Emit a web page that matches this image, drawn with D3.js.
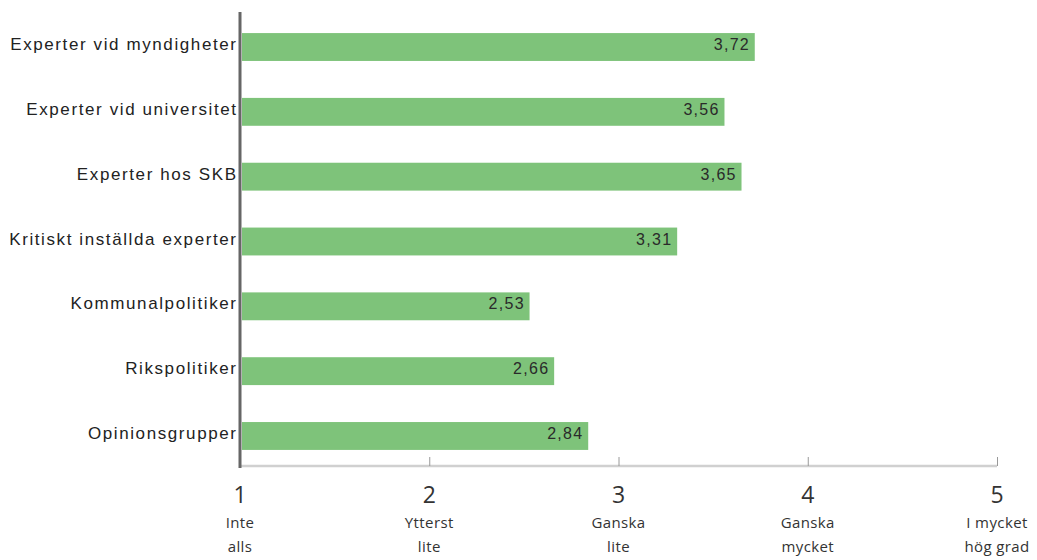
<!DOCTYPE html>
<html>
<head>
<meta charset="utf-8">
<script src="https://cdn.jsdelivr.net/npm/d3@7/dist/d3.min.js"></script>
<style>
  body { margin: 0; background: #fff; }
  svg { display: block; font-family: "Liberation Sans", Arial, sans-serif; }
</style>
</head>
<body>
<svg id="chart" width="1037" height="560"></svg>
<script>
// Förtroende för olika aktörer (medelvärde på skala 1–5)
const categories = [
  "Experter vid myndigheter",
  "Experter vid universitet",
  "Experter hos SKB",
  "Kritiskt inställda experter",
  "Kommunalpolitiker",
  "Rikspolitiker",
  "Opinionsgrupper"
];
const values = [3.72, 3.56, 3.65, 3.31, 2.53, 2.66, 2.84];
const tickValues = [1, 2, 3, 4, 5];
const tickTexts = [
  ["Inte", "alls"],
  ["Ytterst", "lite"],
  ["Ganska", "lite"],
  ["Ganska", "mycket"],
  ["I mycket", "hög grad"]
];

const svg = d3.select("#chart");
const x = d3.scaleLinear().domain([1, 5]).range([240, 997]);
const y = d3.scaleBand().domain(categories).range([14.6, 468.4])
  .paddingInner(0.57).paddingOuter(0.285);
const fmt = v => d3.format(".2f")(v).replace(".", ",");
const mid = c => y(c) + y.bandwidth() / 2;

// Bars
svg.append("g").selectAll("rect").data(values).join("rect")
  .attr("x", x(1) + 2)
  .attr("y", (d, i) => y(categories[i]))
  .attr("width", d => x(d) - x(1) - 2)
  .attr("height", y.bandwidth())
  .attr("fill", "#7ec37a");

// Value labels inside bar ends
const valSpacing = 1.3;
svg.append("g").selectAll("text").data(values).join("text")
  .attr("x", d => x(d) - 6 + valSpacing)
  .attr("y", (d, i) => mid(categories[i]) + 3)
  .attr("text-anchor", "end")
  .attr("font-size", 16)
  .attr("letter-spacing", valSpacing)
  .attr("fill", "#2a2a2a")
  .text(fmt);

// Category labels
const catSpacing = 1.6;
svg.append("g").selectAll("text").data(categories).join("text")
  .attr("x", 236 + catSpacing)
  .attr("y", d => mid(d) + 3)
  .attr("text-anchor", "end")
  .attr("font-size", 17)
  .attr("letter-spacing", catSpacing)
  .attr("fill", "#222")
  .text(d => d);

// Horizontal axis with upward ticks
const axisY = 466;
const xAxis = svg.append("g").attr("transform", `translate(0,${axisY})`)
  .call(d3.axisTop(x).tickValues(tickValues).tickSize(9).tickFormat(""));
xAxis.select(".domain").attr("stroke", "#d0d0d0").attr("stroke-width", 2.5)
  .attr("d", `M${x(1)},0H${x(5)}`);
xAxis.selectAll(".tick line").attr("stroke", "#999").attr("stroke-width", 1);

// Tick numbers and verbal scale labels
const tl = svg.append("g").attr("font-family", "'Open Sans', sans-serif")
  .selectAll("g").data(tickValues).join("g")
  .attr("transform", d => `translate(${x(d)},0)`);
tl.append("text").attr("y", 503).attr("text-anchor", "middle")
  .attr("font-size", 23).attr("fill", "#333").text(d => d);
tl.append("text").attr("y", 528).attr("text-anchor", "middle")
  .attr("font-size", 15).attr("letter-spacing", 0.4).attr("fill", "#333")
  .text((d, i) => tickTexts[i][0]);
tl.append("text").attr("y", 552).attr("text-anchor", "middle")
  .attr("font-size", 15).attr("letter-spacing", 0.4).attr("fill", "#333")
  .text((d, i) => tickTexts[i][1]);

// Vertical axis line
svg.append("line")
  .attr("x1", x(1)).attr("x2", x(1))
  .attr("y1", 12).attr("y2", axisY + 2)
  .attr("stroke", "#666").attr("stroke-width", 3);
</script>
</body>
</html>
